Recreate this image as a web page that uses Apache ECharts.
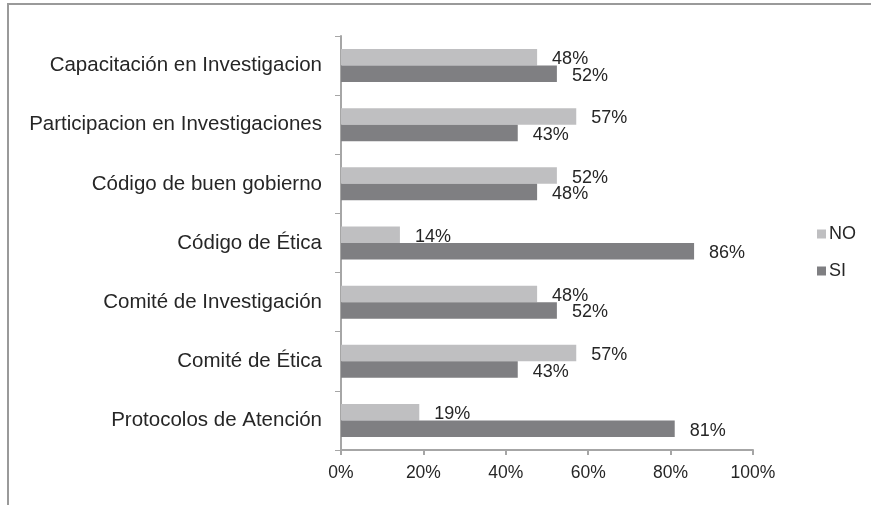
<!DOCTYPE html>
<html>
<head>
<meta charset="utf-8">
<script src="https://cdn.jsdelivr.net/npm/echarts@6/dist/echarts.min.js"></script>
<style>
html,body{margin:0;padding:0;background:#fff;}
#chart{width:871px;height:505px;}
</style>
</head>
<body>
<div id="chart"></div>
<script>
const categories = [
  "Capacitación en Investigacion",
  "Participacion en Investigaciones",
  "Código de buen gobierno",
  "Código de Ética",
  "Comité de Investigación",
  "Comité de Ética",
  "Protocolos de Atención"
];
const seriesNames = ["NO", "SI"];
const noValues = [47.6, 57.1, 52.4, 14.3, 47.6, 57.1, 19.0];
const siValues = [52.4, 42.9, 47.6, 85.7, 52.4, 42.9, 81.0];
const xTicks = [0, 20, 40, 60, 80, 100];

const FONT = "Liberation Sans, Arial, sans-serif";
const TEXT = "#262626";

const chart = echarts.init(document.getElementById('chart'), null, {renderer: 'canvas'});
const labelCfg = {
  show: true,
  position: 'right',
  distance: 15,
  offset: [0, 2],
  color: TEXT,
  fontFamily: FONT,
  fontSize: 18,
  formatter: p => Math.round(p.value) + '%'
};
chart.setOption({
  animation: false,
  backgroundColor: '#fff',
  graphic: [{
    type: 'rect',
    shape: {x: 8, y: 4, width: 1000, height: 1000},
    style: {fill: 'none', stroke: '#9a9a9a', lineWidth: 2},
    silent: true
  }],
  grid: {left: 341, right: 118, top: 36, bottom: 55, containLabel: false},
  legend: {
    orient: 'vertical',
    left: 812,
    top: 220,
    itemWidth: 9,
    itemHeight: 9,
    itemGap: 19,
    icon: 'rect',
    data: seriesNames,
    textStyle: {color: TEXT, fontFamily: FONT, fontSize: 18, padding: [0, 0, 0, -2]}
  },
  xAxis: {
    type: 'value',
    min: xTicks[0],
    max: xTicks[xTicks.length - 1],
    interval: 20,
    splitLine: {show: false},
    axisLine: {show: true, lineStyle: {color: '#a6a6a6', width: 2}},
    axisTick: {show: true, length: 5, lineStyle: {color: '#a6a6a6', width: 2}},
    axisLabel: {color: TEXT, fontFamily: FONT, fontSize: 17.5, margin: 14, formatter: v => v + '%'}
  },
  yAxis: {
    type: 'category',
    data: categories,
    inverse: true,
    axisLine: {show: true, lineStyle: {color: '#a6a6a6', width: 2}},
    axisTick: {show: true, length: 6, lineStyle: {color: '#a6a6a6', width: 1}},
    axisLabel: {color: TEXT, fontFamily: FONT, fontSize: 20.5, margin: 19}
  },
  series: [
    {name: seriesNames[0], type: 'bar', data: noValues, barWidth: 16.5, barGap: '0%',
     itemStyle: {color: '#bfbfc1'}, label: labelCfg},
    {name: seriesNames[1], type: 'bar', data: siValues, barWidth: 16.5, barGap: '0%',
     itemStyle: {color: '#7f7f82'}, label: labelCfg}
  ]
});
</script>
</body>
</html>
